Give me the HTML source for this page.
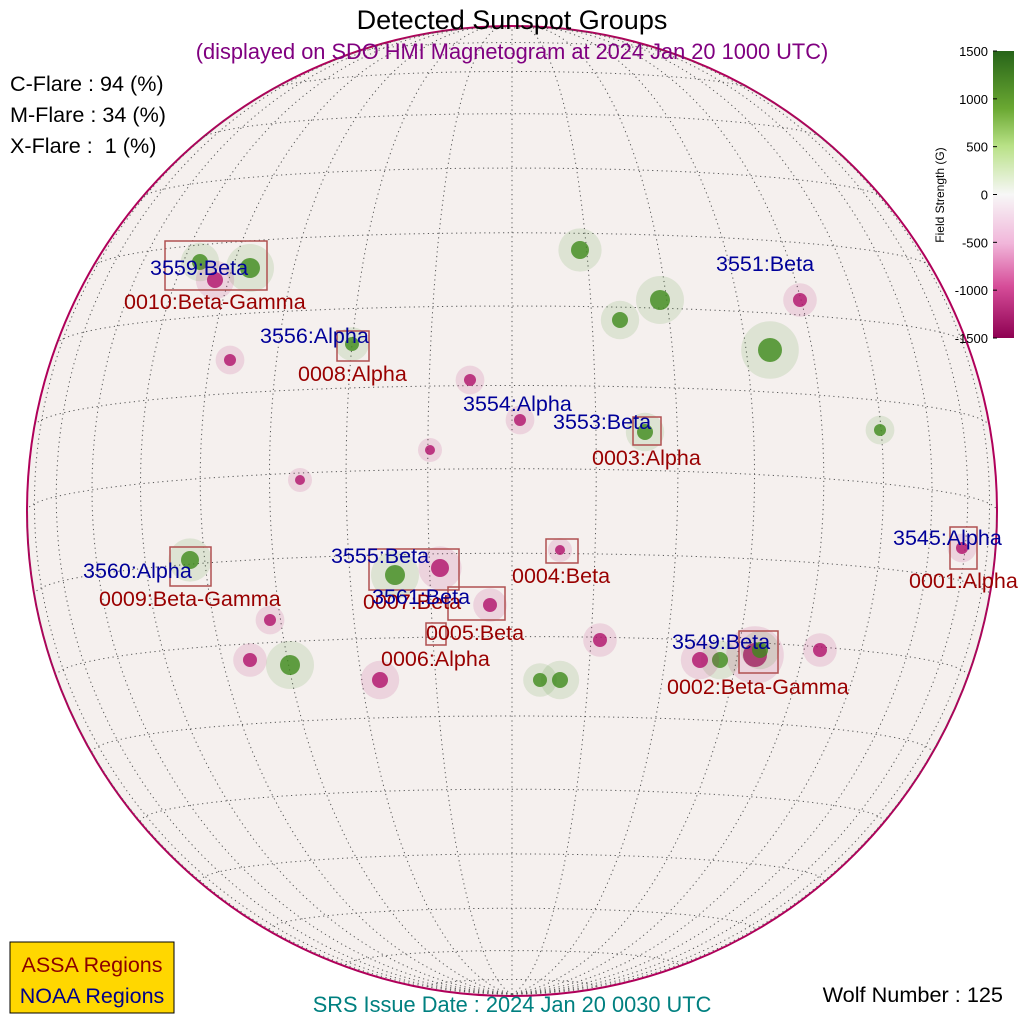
<!DOCTYPE html>
<html><head><meta charset="utf-8"><style>
body{margin:0;background:#fff;}
svg{display:block;font-family:"Liberation Sans",sans-serif;}
</style></head><body>
<svg id="c" width="1024" height="1024" viewBox="0 0 1024 1024">
<defs>
<linearGradient id="cb" x1="0" y1="0" x2="0" y2="1">
<stop offset="0" stop-color="#276419"/><stop offset="0.2" stop-color="#6aa832"/><stop offset="0.33" stop-color="#b8e186"/><stop offset="0.5" stop-color="#f7f7f7"/><stop offset="0.67" stop-color="#f1b6da"/><stop offset="0.82" stop-color="#d64d99"/><stop offset="1" stop-color="#8e0152"/>
</linearGradient>
<clipPath id="dc"><circle cx="512" cy="511" r="485"/></clipPath>
</defs>
<circle cx="512" cy="511" r="485" fill="#f5f0ee" stroke="#b0005a" stroke-width="2"/>
<g id="grid" clip-path="url(#dc)"></g>
<g id="blobs" clip-path="url(#dc)"></g>
<g id="boxes"></g>
<g id="labels"></g>
<text x="512" y="29" font-size="27" text-anchor="middle">Detected Sunspot Groups</text>
<text x="512" y="59" font-size="21.8" fill="#800080" text-anchor="middle">(displayed on SDO HMI Magnetogram at 2024 Jan 20 1000 UTC)</text>
<text x="10" y="91" font-size="21.6">C-Flare : 94 (%)</text>
<text x="10" y="122" font-size="21.6">M-Flare : 34 (%)</text>
<text x="10" y="153" font-size="21.6" xml:space="preserve">X-Flare :  1 (%)</text>
<g>
<rect x="993" y="51" width="21" height="287" fill="url(#cb)"/>
<g id="cbt"></g>
<text transform="translate(944,195) rotate(-90)" font-size="12" text-anchor="middle">Field Strength (G)</text>
</g>
<g>
<rect x="10" y="942" width="164" height="71" fill="#ffd700" stroke="#000" stroke-width="1"/>
<text x="92" y="972" font-size="21.5" fill="#8b0000" text-anchor="middle">ASSA Regions</text>
<text x="92" y="1003" font-size="21.5" fill="#00008b" text-anchor="middle">NOAA Regions</text>
</g>
<text x="512" y="1012" font-size="21.8" fill="#008080" text-anchor="middle">SRS Issue Date : 2024 Jan 20 0030 UTC</text>
<text x="1003" y="1002" font-size="21.7" text-anchor="end">Wolf Number : 125</text>
</svg>
<script>
const cbTicks=[1500,1000,500,0,-500,-1000,-1500];
const assaNames=["0010:Beta-Gamma","0008:Alpha","0003:Alpha","0004:Beta","0001:Alpha","0009:Beta-Gamma","0007:Beta","0005:Beta","0006:Alpha","0002:Beta-Gamma"];
const assaBoxes=[[165,241,267,290],[337,331,369,361],[633,417,661,445],[546,539,578,563],[950,527,977,569],[170,547,211,586],[369,549,459,590],[448,587,505,620],[426,623,446,645],[739,631,778,673]];
const assaLabelPos=[[124,309],[298,381],[592,465],[512,583],[909,588],[99,606],[363,609],[426,640],[381,666],[667,694]];
const noaaNames=["3559:Beta","3551:Beta","3556:Alpha","3554:Alpha","3553:Beta","3545:Alpha","3560:Alpha","3555:Beta","3561:Beta","3549:Beta"];
const noaaLabelPos=[[150,275],[716,271],[260,343],[463,411],[553,429],[893,545],[83,578],[331,563],[372,604],[672,649]];
// magnetic patches: [x, y, radius, polarity(+1 green / -1 magenta)]
const patchX=[200,250,215,352,645,560,962,190,395,440,490,755,760,720,290,380,560,600,700,770,800,880,250,270,470,520,660,300,430,580,620,820,230,540];
const patchY=[262,268,280,344,432,550,548,560,575,568,605,655,650,660,665,680,680,640,660,350,300,430,660,620,380,420,300,480,450,250,320,650,360,680];
const patchR=[8,10,8,7,8,5,6,9,10,9,7,12,8,8,10,8,8,7,8,12,7,6,7,6,6,6,10,5,5,9,8,7,6,7];
const patchP=[1,1,-1,1,1,-1,-1,1,1,-1,-1,-1,1,1,1,-1,1,-1,-1,1,-1,1,-1,-1,-1,-1,1,-1,-1,1,1,-1,-1,1];

const NS="http://www.w3.org/2000/svg";
function mk(t,a,p){const e=document.createElementNS(NS,t);for(const k in a)e.setAttribute(k,a[k]);p.appendChild(e);return e;}
const cx=512,cy=511,R=485,B0=-5*Math.PI/180;
function proj(lat,lon){const la=lat*Math.PI/180,lo=lon*Math.PI/180;
 const x=Math.cos(la)*Math.sin(lo),y=Math.sin(la),z=Math.cos(la)*Math.cos(lo);
 const y2=y*Math.cos(B0)-z*Math.sin(B0),z2=y*Math.sin(B0)+z*Math.cos(B0);
 return [cx+R*x,cy-R*y2,z2];}
const g=document.getElementById('grid');
function line(pts){let d="",pen=false;for(const p of pts){if(p[2]<0){pen=false;continue;}d+=(pen?"L":"M")+p[0].toFixed(1)+","+p[1].toFixed(1);pen=true;}
 const e=mk('path',{d:d,fill:'none',stroke:'#555','stroke-width':1,'stroke-dasharray':'1.2,3.5'},g);
 
 }
for(let lon=-90;lon<=90;lon+=10){const pts=[];for(let lat=-90;lat<=90;lat+=2)pts.push(proj(lat,lon));line(pts);}
for(let lat=-80;lat<=80;lat+=10){const pts=[];for(let lon=-90;lon<=90;lon+=2)pts.push(proj(lat,lon));line(pts);}

const bl=document.getElementById('blobs');
for(let i=0;i<patchX.length;i++){
 const col=patchP[i]>0?'#3f8a1c':'#b0106a';
 const f=mk('circle',{cx:patchX[i],cy:patchY[i],r:patchR[i]*2.4,fill:col,opacity:0.13},bl);
 
 
 const e=mk('circle',{cx:patchX[i],cy:patchY[i],r:patchR[i],fill:col,opacity:0.8},bl);
 
 
}
const bx=document.getElementById('boxes');
assaBoxes.forEach((b,i)=>{
 const e=mk('rect',{x:b[0],y:b[1],width:b[2]-b[0],height:b[3]-b[1],fill:'none',stroke:'#b05050','stroke-width':1.5},bx);
 
 
});
const lb=document.getElementById('labels');
assaNames.forEach((n,i)=>{
 const e=mk('text',{x:assaLabelPos[i][0],y:assaLabelPos[i][1],'font-size':21.5,fill:'#990000'},lb);e.textContent=n;
 
 
});
noaaNames.forEach((n,i)=>{
 const e=mk('text',{x:noaaLabelPos[i][0],y:noaaLabelPos[i][1],'font-size':21.5,fill:'#000099'},lb);e.textContent=n;
 
 
});
const ct=document.getElementById('cbt');
cbTicks.forEach(v=>{
 const y=51+(1500-v)/3000*287;
 const t=mk('text',{x:988,y:y+5,'font-size':13,'text-anchor':'end'},ct);t.textContent=v;
 
 
 const l=mk('line',{x1:993,x2:997,y1:y,y2:y,stroke:'#000'},ct);
 
 
});
</script>
</body></html>
